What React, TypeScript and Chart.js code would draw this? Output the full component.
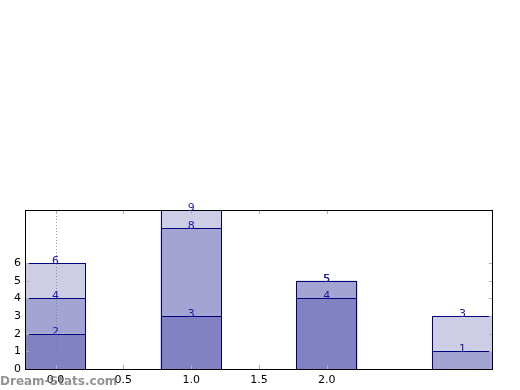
import React, { useEffect, useRef } from "react";
import { Chart, registerables } from "chart.js";

Chart.register(...registerables);

const positions = [0, 1, 2, 3];
const seriesA = [2, 3, 4, 0];
const seriesB = [2, 5, 1, 1];
const seriesC = [2, 1, 0, 2];
const xTickValues = [0, 0.5, 1, 1.5, 2];
const yTickValues = [0, 1, 2, 3, 4, 5, 6];
const seriesColors = ["#8282c2", "#a4a4d2", "#cdcde6"];
const watermark = "Dream-Stats.com";

const FONT = "'DejaVu Sans', sans-serif";

const framePlugin = {
  id: "framePlugin",
  afterDatasetsDraw(chart: any) {
    const { ctx, chartArea, scales } = chart;
    const { left, right, top, bottom } = chartArea;
    ctx.save();
    // crisp bar outlines
    ctx.beginPath();
    ctx.rect(left, top - 1, right - left, bottom - top + 2);
    ctx.clip();
    ctx.strokeStyle = "#00007a";
    ctx.lineWidth = 1;
    chart.data.datasets.forEach((ds: any, di: number) => {
      const meta = chart.getDatasetMeta(di);
      meta.data.forEach((el: any, i: number) => {
        if (ds.data[i].y === 0) return;
        const x1 = Math.round(el.x - el.width / 2) + 0.5;
        const x2 = Math.round(el.x + el.width / 2) - 0.5;
        const y1 = Math.round(el.y) + 0.5;
        const y2 = Math.round(el.base) + 0.5;
        ctx.strokeRect(x1, y1, x2 - x1, y2 - y1);
      });
    });
    ctx.restore();
    ctx.save();
    // dotted line at x = 0
    const x0 = Math.round(scales.x.getPixelForValue(0)) + 0.5;
    ctx.strokeStyle = "rgba(120,120,120,0.7)";
    ctx.lineWidth = 1;
    ctx.setLineDash([1, 2]);
    ctx.beginPath();
    ctx.moveTo(x0, top);
    ctx.lineTo(x0, bottom);
    ctx.stroke();
    ctx.setLineDash([]);
    // tick marks inside
    ctx.strokeStyle = "#b0b0b0";
    ctx.beginPath();
    for (const v of xTickValues) {
      const px = Math.round(scales.x.getPixelForValue(v)) + 0.5;
      ctx.moveTo(px, bottom);
      ctx.lineTo(px, bottom - 4);
      ctx.moveTo(px, top);
      ctx.lineTo(px, top + 4);
    }
    for (const v of yTickValues) {
      const py = Math.round(scales.y.getPixelForValue(v)) + 0.5;
      ctx.moveTo(left, py);
      ctx.lineTo(left + 4, py);
      ctx.moveTo(right, py);
      ctx.lineTo(right - 4, py);
    }
    ctx.stroke();
    // frame
    ctx.strokeStyle = "#000000";
    ctx.lineWidth = 1;
    ctx.strokeRect(Math.round(left) + 0.5, Math.round(top) + 0.5, Math.round(right - left) - 1, Math.round(bottom - top));
    // value labels
    ctx.fillStyle = "#1a1aa0";
    ctx.font = `11px ${FONT}`;
    ctx.textAlign = "center";
    ctx.textBaseline = "alphabetic";
    const cum = positions.map(() => 0);
    chart.data.datasets.forEach((ds: any, di: number) => {
      const meta = chart.getDatasetMeta(di);
      meta.data.forEach((el: any, i: number) => {
        cum[i] += ds.data[i].y;
        if (cum[i] === 0) return;
        ctx.fillText(String(cum[i]), el.x, Math.round(el.y) + 0.5);
      });
    });
    // watermark
    ctx.fillStyle = "rgba(120,120,120,0.8)";
    ctx.font = `bold 12px ${FONT}`;
    ctx.textAlign = "left";
    ctx.fillText(watermark, 0, 385);
    ctx.restore();
  },
};

export default function App() {
  const ref = useRef<HTMLCanvasElement>(null);
  useEffect(() => {
    if (!ref.current) return;
    const mk = (arr: number[]) => positions.map((p, i) => ({ x: p, y: arr[i] }));
    const chart = new Chart(ref.current, {
      type: "bar",
      data: {
        datasets: [seriesA, seriesB, seriesC].map((arr, k) => ({
          data: mk(arr),
          backgroundColor: seriesColors[k],
          borderWidth: 0,
          barPercentage: 0.9,
          categoryPercentage: 1,
        })),
      },
      options: {
        animation: false,
        responsive: false,
        events: [],
        layout: { padding: { top: 210, left: 0, right: 27, bottom: 0 } },
        plugins: { legend: { display: false }, tooltip: { enabled: false } },
        scales: {
          x: {
            type: "linear",
            stacked: true,
            offset: false,
            min: -0.225,
            max: 3.225,
            grid: { display: false, drawTicks: false, offset: false },
            border: { display: false },
            afterBuildTicks: (s: any) => {
              s.ticks = xTickValues.map((v) => ({ value: v }));
            },
            afterFit: (s: any) => {
              s.height = 21;
            },
            ticks: {
              padding: 5,
              color: "#000",
              font: { family: FONT, size: 11 },
              callback: (v: any) => Number(v).toFixed(1),
            },
          },
          y: {
            stacked: true,
            min: 0,
            max: 9,
            grid: { display: false, drawTicks: false },
            border: { display: false },
            afterBuildTicks: (s: any) => {
              s.ticks = yTickValues.map((v) => ({ value: v }));
            },
            afterFit: (s: any) => {
              s.width = 25;
            },
            ticks: {
              padding: 4,
              color: "#000",
              font: { family: FONT, size: 11 },
              callback: (v: any) => String(v),
            },
          },
        },
      },
      plugins: [framePlugin],
    } as any);
    return () => chart.destroy();
  }, []);
  return (
    <div style={{ position: "absolute", left: 0, top: 0, width: 520, height: 390, background: "#fff" }}>
      <canvas ref={ref} width={520} height={390} />
    </div>
  );
}
